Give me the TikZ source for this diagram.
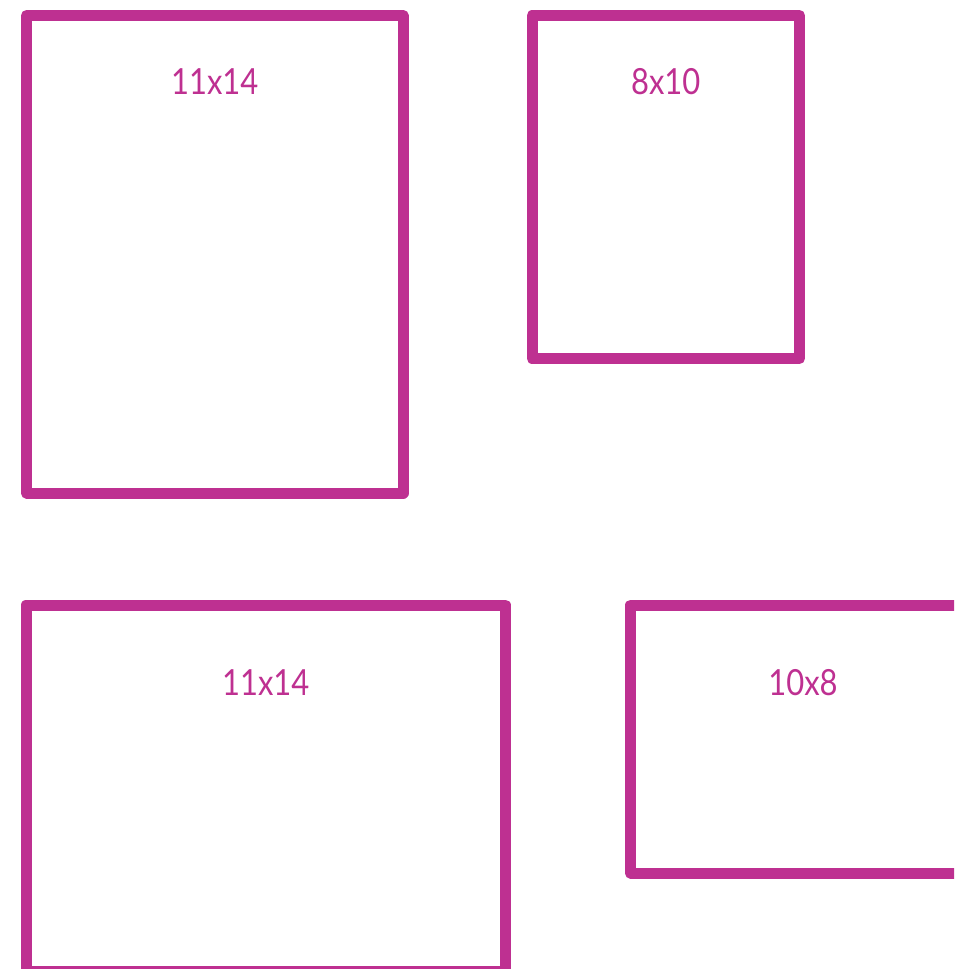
\documentclass[tikz,border=0pt]{standalone}
\usepackage{fontspec}
\setmainfont{Lato}[FakeStretch=0.86]
\usepackage{tikz}
\usetikzlibrary{positioning}
\definecolor{framepink}{RGB}{190,48,145}
\tikzset{
  frame/.style={draw=framepink,line width=11pt,line join=round,line cap=round},
  size/.style={text=framepink,font=\fontsize{36}{40}\selectfont,inner sep=0pt,anchor=center},
}
\begin{document}
\begin{tikzpicture}[x=1pt,y=-1pt]
  \useasboundingbox (0,0) rectangle (954,969);
  \begin{scope}
    \clip (0,0) rectangle (954,969);
    \draw[frame] (26.5,15.5) rectangle (403,493);
    \draw[frame] (532,15.5) rectangle (799.5,358.5);
    \draw[frame] (26,605) rectangle (505.5,971);
    \draw[frame] (630.5,605) rectangle (976,873);
  \end{scope}

  \node[size] (tall) at (214.75,82) {11x14};
  \node[size] (small) at (665.75,82) {8x10};
  \node[size] (wide) at (265.75,683) {11x14};
  \node[size] (land) at (803,683) {10x8};
\end{tikzpicture}
\end{document}
